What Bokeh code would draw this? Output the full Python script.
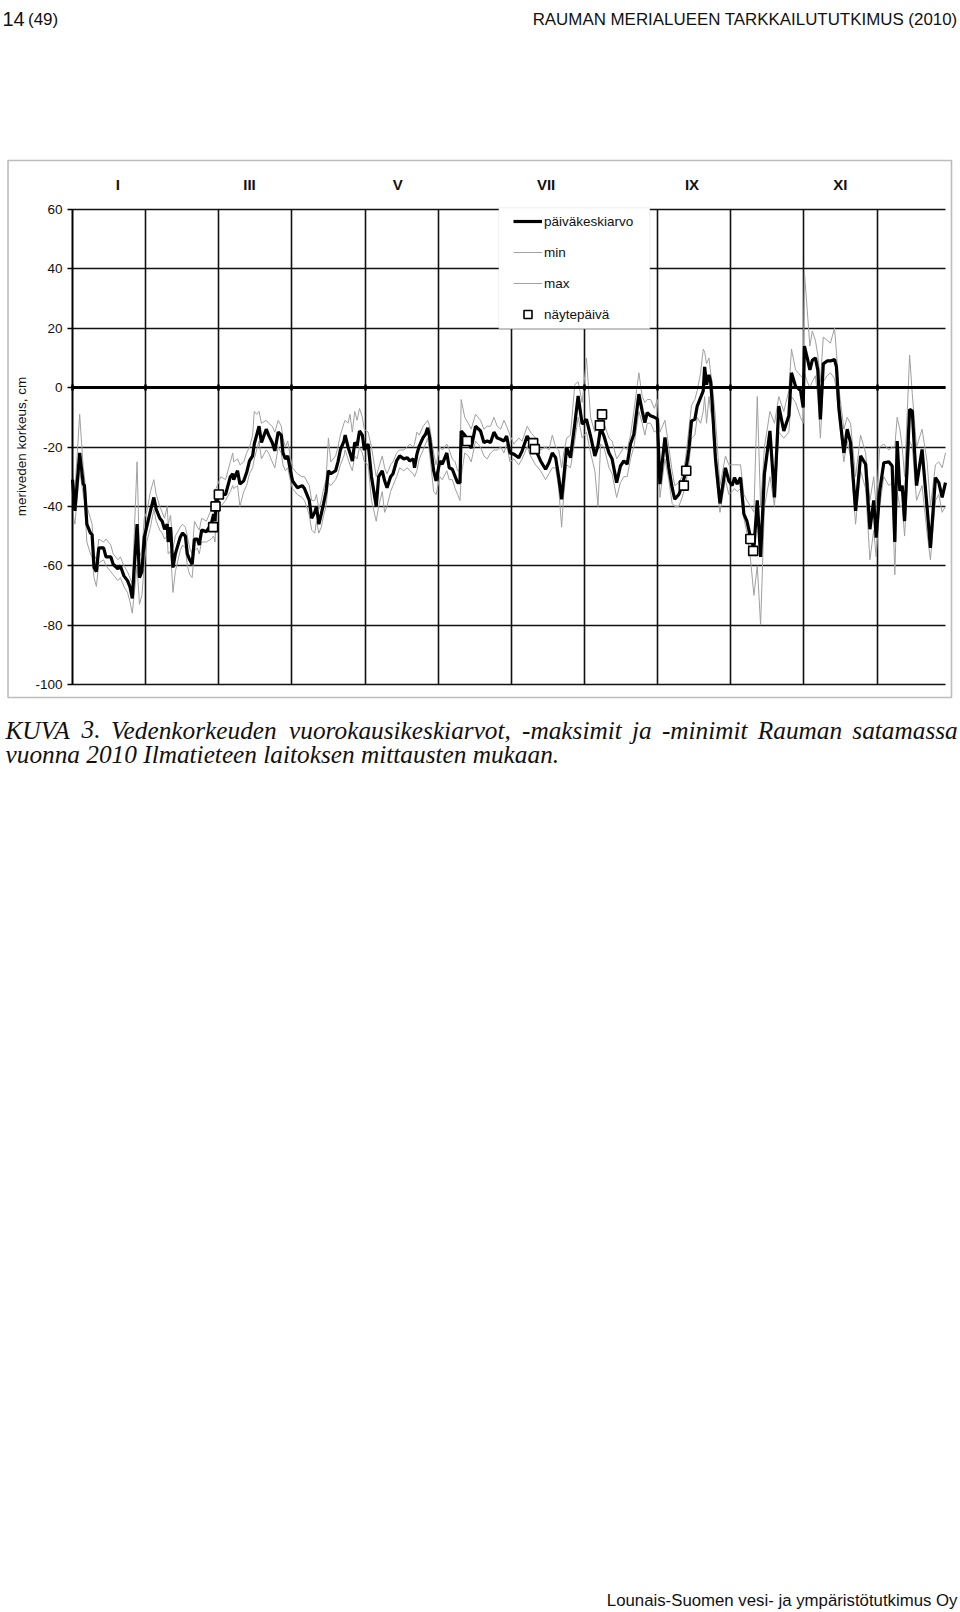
import math
from bokeh.plotting import figure
from bokeh.models import (Range1d, FixedTicker, LinearAxis, Label, BoxAnnotation,
                          Legend, LegendItem, PrintfTickFormatter)
from bokeh.embed import file_html
from bokeh.resources import INLINE

# ---------------- data ----------------
days = [0, 1, 3, 4.5, 5, 6, 7.5, 8.2, 9, 10,
        11, 13, 14, 16, 17, 19, 20, 21.5, 23, 24,
        25, 27, 28, 29, 30, 31, 32.6, 34, 35, 36.5,
        37.5, 38.5, 39.6, 40, 41, 42, 43, 45, 46, 47.2,
        48, 49, 50, 51, 52.2, 53, 54, 56, 58, 59,
        59.6, 60, 62, 64, 66, 67, 67.4, 69, 70, 71.6,
        72.8, 74, 75.3, 76, 77, 78, 79, 81, 82, 83.5,
        84.6, 86, 87.3, 88, 89, 90, 91, 92, 94, 96,
        97, 99, 100, 101.3, 102, 103, 104, 105, 106, 107,
        108, 110, 111, 112, 113.5, 114, 115.2, 116, 117, 118,
        119, 120, 121.2, 122, 123.6, 125, 127, 128, 129.5, 130.5,
        131.5, 133, 134, 135.5, 136.8, 138.5, 140, 141, 142.5, 143,
        144, 145, 146.6, 147.6, 148.5, 149.3, 151, 152, 153.6, 154.6,
        156.5, 157.5, 158.8, 160, 161, 162, 162.5, 164, 165.5, 166.7,
        168.5, 170.6, 172, 173.4, 174.8, 176.2, 177.6, 179, 180.4, 181.5,
        182.9, 184.5, 186.6, 188, 190.1, 191.5, 193.6, 195.7, 197.8, 199.2,
        200.6, 202, 203.3, 204.5, 205.4, 206.6, 208.2, 210, 211.4, 213.1,
        214.9, 216.6, 218.4, 219.7, 220.8, 222.2, 224.3, 225.6, 227.5, 229.1,
        230.5, 231.9, 233.3, 234.7, 236.8, 238.2, 239.3, 240.3, 241.7, 243.3,
        244.5, 245.6, 247.7, 249.3, 250.7, 251.8, 253.5, 254.9, 256.3, 257.7,
        258.8, 260.2, 261.2, 262.6, 263.7, 264.3, 265.1, 266.1, 266.8, 267.4,
        268.8, 270.7, 273, 274.4, 275.8, 276.8, 277.9, 279.3, 280.7, 282,
        283.5, 284.9, 286.3, 287.7, 289.3, 291.6, 293.5, 295.3, 297.4, 299.5,
        300.6, 302.3, 304.4, 305.5, 306, 307.2, 308.3, 309.3, 310.6, 311.6,
        312.7, 313.9, 315.5, 316.9, 318.6, 319.4, 320.4, 322.5, 323.9, 325.3,
        327.4, 329.5, 331.6, 333.4, 335, 336, 337.5, 339.2, 341.3, 342.7,
        343.8, 344.8, 345.9, 346.9, 347.9, 350, 351.1, 352.9, 355.2, 357.3,
        358.7, 360.8, 362.2, 363.6, 365]

mean = [-31, -41.5, -22, -32.5, -33, -46, -49, -49.5, -60.6, -62,
        -54, -54, -57, -57, -59.5, -61, -60, -63.4, -65, -67,
        -71, -46, -64, -62, -50.5, -47, -41.5, -37, -41, -44,
        -45, -47.7, -46, -52, -47, -60.6, -56, -50.5, -49, -50,
        -56, -58, -59.5, -51, -51, -53, -48, -48.5, -46, -42.6,
        -45, -38, -36, -36, -30, -29, -31, -28, -32.5, -31.4,
        -28.6, -24.7, -23, -19, -16, -13, -18.5, -14, -16, -18.5,
        -21.3, -15, -16, -22, -24, -23, -27.5, -31.4, -33.7, -33,
        -34, -38, -44, -42, -40, -46, -42.6, -39, -35, -28,
        -29, -28, -25, -21, -18, -16, -20, -22, -24.7, -18.5,
        -19.6, -14.6, -16, -21, -19, -30, -40, -30, -28, -31.4,
        -33.7, -30, -29, -24.7, -23, -24, -23.6, -24.7, -24, -27,
        -22.4, -19.6, -16.8, -15.7, -13.5, -16.8, -28, -31.4, -24.7, -25.8,
        -22, -27, -27.5, -30, -32, -32, -14.6, -16, -18, -20.4,
        -13, -14.6, -18.5, -18, -18.5, -15, -17, -17.4, -18, -16.3,
        -22, -22.4, -23.6, -21.3, -16.3, -18.5, -20.8, -24.7, -27.5, -25.3,
        -22, -23.6, -30.3, -37.6, -30.3, -20.2, -23.6, -12.3, -2.8, -12.3,
        -10.7, -16.3, -23, -19.6, -13.5, -16.3, -22, -24, -32, -26.4,
        -24.7, -25.8, -19, -15.7, -2.2, -7.9, -11.8, -8.4, -9.5, -10,
        -10.5, -32.5, -16.8, -27, -33.7, -37.6, -36, -33, -28.6, -20.8,
        -11.2, -10.7, -6.2, -3.4, -1.1, 7, 1, 4.3, 2, -4.5,
        -23.6, -39, -27, -31.4, -33, -30.3, -32.5, -30.3, -42.6, -45,
        -50.5, -54, -38, -57, -29, -14.6, -37, -6.2, -14.6, -9.5,
        5, 0.5, -1, -6.7, 14, 10, 6, 9.2, 10, 6,
        -10.7, 8, 9, 9, 9.5, 7, -6.7, -22, -14, -18.5,
        -41.5, -23, -25.8, -47.7, -38, -50.5, -34.8, -25.3, -25, -26.4,
        -52, -18, -34.8, -33, -45, -7.3, -7.9, -33, -20.8, -40.4,
        -54, -30.3, -32, -37, -32]

vmax = [-28, -35, -9, -27, -30, -40, -44, -46, -56, -58,
        -51, -52, -51, -53, -56, -58, -57, -60, -62, -64,
        -66, -25, -57, -55, -44, -42, -35, -31, -36, -40,
        -42, -44, -40, -46, -43, -54, -50, -47, -46, -47,
        -50, -54, -56, -45, -47, -48, -44, -45, -41, -40,
        -40, -34, -30, -31, -25, -22, -25, -24, -26, -25,
        -22, -20, -16, -8, -9, -8, -12, -11, -12, -13,
        -15, -11, -13, -17, -20, -18, -23, -27, -29, -30,
        -30, -33, -38, -38, -36, -41, -38, -34, -31, -17,
        -25, -23, -20, -16, -12, -11, -12, -9, -15, -8,
        -11, -7, -10, -14, -15, -20, -30, -27, -23, -27,
        -29, -26, -25, -22, -21, -21, -20, -19, -20, -19,
        -15, -16, -13, -12, -11, -13, -22, -26, -20, -21,
        -19, -21, -24, -25, -28, -28, -4, -10, -12, -14,
        -9, -11, -14, -13, -13, -10, -13, -14, -11, -13,
        -16, -19, -17, -18, -13, -15, -17, -21, -20, -21,
        -16, -20, -21, -27, -22, -17, -16, 1, 2, -5,
        10, -10, -15, -11, -9, -12, -17, -18, -24, -22,
        -20, -21, -16, -8, 5, -3, -5, -4, -4, -7,
        -4, -15, -11, -20, -28, -33, -32, -30, -24, -14,
        -6, -4, -1, 5, 13, 12, 8, 10, 5, 2,
        -10, -33, -23, -26, -26, -26, -26, -26, -36, -38,
        -40, -42, -3, -40, -20, -8, -12, -3, -8, -1,
        13, 6, 4, 3, 39, 26, 14, 19, 16, 11,
        2, 17, 16, 15, 20, 12, 0, -14, -10, -12,
        -30, -16, -22, -38, -30, -40, -20, -19, -21, -20,
        -20, -10, -14, -20, -30, 11, -2, -20, -14, -25,
        -40, -26, -25, -27, -22]

vmin = [-42, -46, -28, -36, -38, -52, -56, -57, -64, -67,
        -59, -58, -60, -62, -63, -65, -64, -67, -69, -72,
        -76, -60, -73, -70, -60, -52, -47, -41, -45, -48,
        -49, -51, -50, -56, -55, -69, -62, -55, -53, -54,
        -60, -63, -64, -55, -54, -56, -52, -52, -51, -50,
        -52, -43, -40, -38, -35, -33, -34, -33, -40, -35,
        -33, -29, -27, -24, -21, -18, -24, -21, -22, -25,
        -27, -20, -22, -26, -28, -27, -31, -34, -36, -37,
        -38, -43, -48, -49, -45, -49, -47, -43, -40, -32,
        -33, -31, -29, -26, -23, -21, -24, -26, -28, -23,
        -24, -20, -22, -25, -26, -38, -45, -40, -35, -42,
        -40, -35, -33, -30, -27, -28, -27, -28, -29, -30,
        -28, -24, -21, -19, -17, -22, -35, -36, -30, -31,
        -28, -31, -31, -34, -36, -38, -30, -22, -23, -25,
        -18, -20, -23, -24, -22, -21, -21, -20, -22, -19,
        -25, -24, -26, -24, -20, -23, -26, -28, -31, -29,
        -27, -27, -34, -47, -36, -26, -27, -18, -10, -17,
        -15, -22, -28, -40, -19, -20, -27, -29, -37, -32,
        -30, -30, -24, -20, -8, -12, -16, -12, -12, -15,
        -14, -37, -24, -31, -39, -40, -40, -37, -33, -26,
        -17, -16, -10, -12, -8, -3, -12, -3, -8, -10,
        -28, -42, -31, -36, -35, -34, -35, -34, -44, -49,
        -58, -70, -60, -80, -40, -30, -40, -15, -17, -15,
        -3, -5, -10, -12, 5, 2, 0, 2, 4, -3,
        -17, 2, 4, 5, 3, -1, -10, -25, -18, -23,
        -46, -28, -34, -58, -48, -57, -40, -30, -33, -32,
        -63, -35, -40, -40, -50, -18, -20, -38, -33, -49,
        -58, -38, -36, -42, -40]

# sampling days (näytepäivä)
sample_day = [58.8, 59.8, 61.2, 165, 192.6, 193.3, 220.5, 221.4,
              255.6, 256.6, 283.4, 284.6]
sample_level = [-47, -40, -36, -18, -18.7, -20.7, -12.7, -9,
                -33, -28, -51, -55]

month_labels = ["I", "III", "V", "VII", "IX", "XI"]
y_ticks = [-100, -80, -60, -40, -20, 0, 20, 40, 60]

assert len(days) == len(mean) == len(vmax) == len(vmin)

# ---------------- geometry (page pixels) ----------------
W, H = 960, 1612
PX0, PX1 = 72, 945      # day 0 .. day 365
PY0, PY1 = 209, 684     # level 60 .. level -100
D0, D1, V0, V1 = 0, 365, -100, 60
kx = (PX1 - PX0) / (D1 - D0)
ky = (PY1 - PY0) / (V1 - V0)


def xd(px):
    return D0 + (px - PX0) / kx


def yd(py):
    return V1 - (py - PY0) / ky


FONT = "Liberation Sans"
SERIF = "Liberation Serif"
INK = "#111111"

p = figure(width=W, height=H, output_backend="svg", toolbar_location=None,
           x_range=Range1d(xd(0), xd(W)), y_range=Range1d(yd(H), yd(0)),
           min_border=0, min_border_left=0, min_border_right=0,
           min_border_top=0, min_border_bottom=0)
p.outline_line_color = None
p.background_fill_color = "white"
p.border_fill_color = "white"

grid_ticks = [round(k * 30.58, 2) for k in range(12)]

p.xgrid.ticker = FixedTicker(ticks=grid_ticks)
p.xgrid.bounds = (D0, D1)
p.xgrid.cross_bounds = (V0, V1)
p.xgrid.grid_line_color = INK
p.xgrid.grid_line_width = 1.6
p.ygrid.ticker = FixedTicker(ticks=y_ticks)
p.ygrid.bounds = (V0, V1)
p.ygrid.cross_bounds = (D0, D1)
p.ygrid.grid_line_color = INK
p.ygrid.grid_line_width = 1.4

# x axis sitting at level 0 (no labels)
xa = p.xaxis[0]
xa.fixed_location = 0
xa.bounds = (D0, D1)
xa.ticker = FixedTicker(ticks=grid_ticks)
xa.major_label_text_color = None
xa.major_label_text_font_size = "1px"
xa.axis_line_width = 3
xa.axis_line_color = "black"
xa.major_tick_in = 3
xa.major_tick_out = 3
xa.major_tick_line_width = 2.5
xa.minor_tick_line_color = None

# y axis at day 0
ya = p.yaxis[0]
ya.fixed_location = D0
ya.bounds = (V0, V1)
ya.ticker = FixedTicker(ticks=y_ticks)
ya.formatter = PrintfTickFormatter(format="%d")
ya.axis_line_width = 1.6
ya.axis_line_color = "black"
ya.major_tick_out = 5
ya.major_tick_in = 0
ya.major_tick_line_width = 1.4
ya.minor_tick_line_color = None
ya.major_label_text_font = FONT
ya.major_label_text_font_size = "13.5px"
ya.major_label_text_color = INK
ya.major_label_standoff = 5

# month labels on top
month_pos = [19, 74, 136, 198, 259, 321]
top_ax = LinearAxis(ticker=FixedTicker(ticks=month_pos),
                    major_label_overrides={pos: lab for pos, lab in zip(month_pos, month_labels)})
top_ax.fixed_location = V1
top_ax.bounds = (D0, D1)
top_ax.axis_line_color = None
top_ax.major_tick_line_color = None
top_ax.minor_tick_line_color = None
top_ax.major_tick_out = 0
top_ax.major_tick_in = 0
top_ax.major_label_standoff = 17
top_ax.major_label_text_font = FONT
top_ax.major_label_text_font_size = "15px"
top_ax.major_label_text_font_style = "bold"
top_ax.major_label_text_color = INK
p.add_layout(top_ax, "above")

# ---------------- series ----------------
r_min = p.line(days, vmin, line_color="#a0a0a0", line_width=1)
r_max = p.line(days, vmax, line_color="#a0a0a0", line_width=1)
r_mean = p.line(days, mean, line_color="black", line_width=3.2)
r_samp = p.scatter(sample_day, sample_level, marker="square", size=9,
                   fill_color="white", line_color="black", line_width=1.6)

# outer chart box
p.add_layout(BoxAnnotation(left=xd(7.5), right=xd(951), top=yd(160), bottom=yd(697),
                           fill_color=None, line_color="#222222", line_width=1.6))

# legend box (white background, light border)
p.add_layout(BoxAnnotation(left=xd(498.3), right=xd(649.3), top=yd(207.3), bottom=yd(328.3),
                           fill_color="white", fill_alpha=1.0,
                           line_color="#c8c8c8", line_width=1))

legend = Legend(items=[LegendItem(label="päiväkeskiarvo", renderers=[r_mean]),
                       LegendItem(label="min", renderers=[r_min]),
                       LegendItem(label="max", renderers=[r_max]),
                       LegendItem(label="näytepäivä", renderers=[r_samp])],
                location=(513, H - 324), padding=0, margin=0, spacing=11,
                glyph_width=29, glyph_height=20, label_height=20, label_standoff=2,
                border_line_color=None, background_fill_alpha=0,
                label_text_font=FONT, label_text_font_size="13.5px",
                label_text_color=INK)
p.add_layout(legend, "center")


# ---------------- page texts ----------------
def put(text, px, py, size, font=FONT, align="left", style="normal", baseline="alphabetic",
        angle=0.0):
    p.add_layout(Label(x=xd(px), y=yd(py), text=text, text_align=align,
                       text_baseline=baseline, text_font=font, angle=angle,
                       text_font_size=size, text_font_style=style, text_color=INK))


# y axis title
put("meriveden korkeus, cm", 20.5, 446, "13.5px", align="center", baseline="middle",
    angle=math.pi / 2)

# page header
put("14", 2, 18.5, "20px")
put("(49)", 27.5, 18.5, "17px")
put("RAUMAN MERIALUEEN TARKKAILUTUTKIMUS (2010)", 957, 18.5, "16.9px", align="right")

# caption (justified first line)
cap_words = ["KUVA", "3.", "Vedenkorkeuden", "vuorokausikeskiarvot,", "-maksimit",
             "ja", "-minimit", "Rauman", "satamassa"]
cap_x = [5, 81, 110.4, 288.6, 521.5, 631.5, 661.4, 757.3, 851.8]
for w, cx in zip(cap_words, cap_x):
    put(w, cx, 729, "25.3px", font=SERIF, style="italic")
put("vuonna 2010 Ilmatieteen laitoksen mittausten mukaan.", 5, 753, "25.3px",
    font=SERIF, style="italic")

# page footer
put("Lounais-Suomen vesi- ja ympäristötutkimus Oy", 957, 1600, "16.8px", align="right")

open("out.html", "w").write(file_html(p, INLINE))
